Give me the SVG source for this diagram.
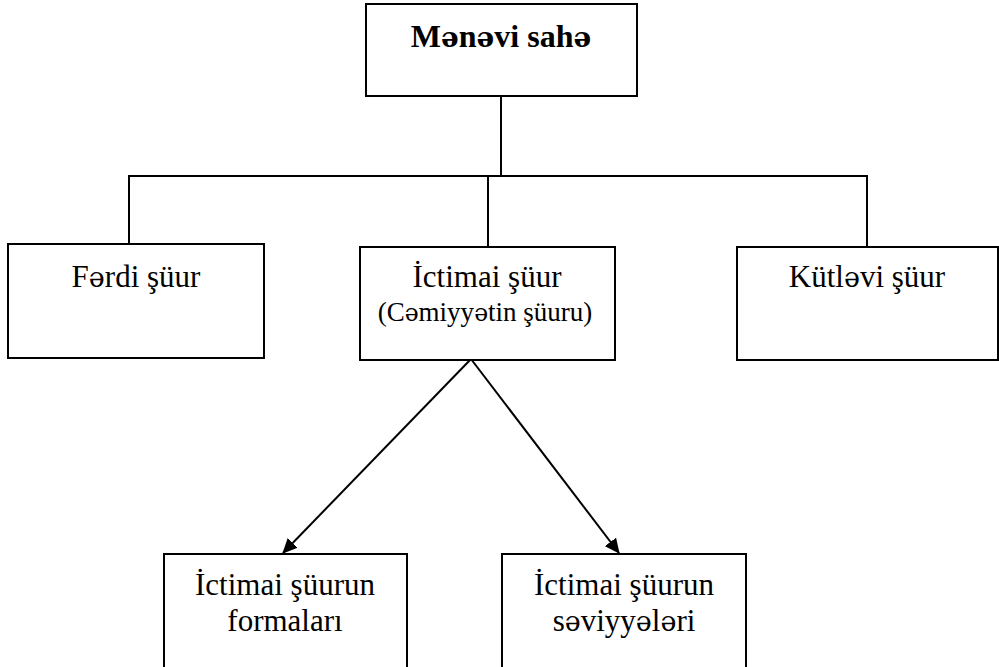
<svg xmlns="http://www.w3.org/2000/svg" width="999" height="667" viewBox="0 0 999 667">
<style>
.box{fill:#fff;stroke:#000;stroke-width:2}
.t{font-family:"Liberation Serif","Times New Roman",serif;font-size:31px;fill:#000;text-anchor:middle}
.b{font-weight:bold;font-size:32px}
.s{font-size:27px}
.e{font-family:"DejaVu Serif","Liberation Serif",serif;font-size:0.87em}
.ln{stroke:#000;stroke-width:2;fill:none}
</style>
<defs>
<marker id="ah" markerWidth="15" markerHeight="14" refX="14" refY="7" orient="auto" markerUnits="userSpaceOnUse" viewBox="0 0 15 14">
<path d="M0,0 L15,7 L0,14 z" fill="#000"/>
</marker>
</defs>
<rect width="999" height="667" fill="#fff"/>
<g id="connectors">
<line class="ln" x1="501" y1="96" x2="501" y2="176"/>
<polyline class="ln" points="129,244 129,176 501,176"/>
<polyline class="ln" points="488,247 488,176 867,176 867,247"/>
<path class="ln" d="M471,359 L283,553" marker-end="url(#ah)"/>
<path class="ln" d="M471,359 L619,553" marker-end="url(#ah)"/>
</g>
<g id="menevi">
<rect class="box" x="366" y="4" width="271" height="92"/>
<text class="t b" x="501" y="47">M<tspan class="e">ə</tspan>n<tspan class="e">ə</tspan>vi sah<tspan class="e">ə</tspan></text>
</g>
<g id="ferdi">
<rect class="box" x="8" y="244" width="256" height="114"/>
<text class="t" x="136" y="287">F<tspan class="e">ə</tspan>rdi şüur</text>
</g>
<g id="ictimai">
<rect class="box" x="360" y="247" width="255" height="113"/>
<text class="t" x="487" y="287">İctimai şüur</text>
<text class="t s" x="485" y="321">(C<tspan class="e">ə</tspan>miyy<tspan class="e">ə</tspan>tin şüuru)</text>
</g>
<g id="kutlevi">
<rect class="box" x="737" y="247" width="261" height="113"/>
<text class="t" x="867" y="287">Kütl<tspan class="e">ə</tspan>vi şüur</text>
</g>
<g id="formalari">
<rect class="box" x="164" y="554" width="243" height="120"/>
<text class="t" x="285" y="595">İctimai şüurun</text>
<text class="t" x="285" y="631">formaları</text>
</g>
<g id="seviyyeleri">
<rect class="box" x="502" y="554" width="244" height="120"/>
<text class="t" x="624" y="595">İctimai şüurun</text>
<text class="t" x="624" y="631">s<tspan class="e">ə</tspan>viyy<tspan class="e">ə</tspan>l<tspan class="e">ə</tspan>ri</text>
</g>
</svg>
